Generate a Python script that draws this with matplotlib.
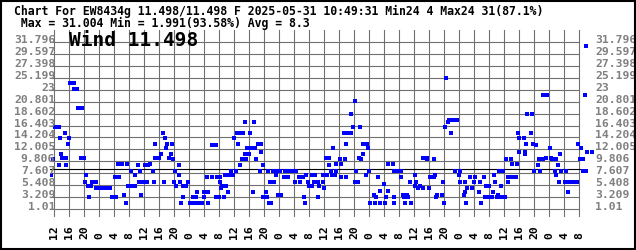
import matplotlib
matplotlib.use('Agg')
import matplotlib.pyplot as plt
from matplotlib.patches import Rectangle

# hours since 12:00 on the first day, and wind readings
hours = [
    -0.72, -0.19, 0.27, 1.25, 1.41, 1.68, 1.95, 2.13, 3.12, 3.01, 3.28, 3.81, 4.08, 4.27, 5.33, 5.25,
    6.21, 6.4, 7.39, 7.12, 8.08, 8.19, 8.53, 8.99, 9.41, 9.95, 10.21, 11.2, 11.2, 12.08, 12.99, 13.87,
    14.85, 15.55, 16.45, 16.35, 17.25, 17.15, 18.05, 18.67, 19.12, 19.39, 19.73, 20.72, 21.6, 20.61,
    21.6, 22.48, 22.93, 22.75, 23.28, 23.81, 24.72, 24.19, 25.07, 25.6, 26.48, 26.75, 27.01, 27.01,
    28.0, 28.53,
    29.15, 29.41, 29.68, 29.95, 30.21, 31.39, 30.75, 31.28, 31.81, 32.08, 32.35, 32.61, 33.25, 33.41,
    33.68, 33.95, 34.32, 35.28, 34.48, 35.81, 36.27, 37.33, 37.07, 37.95, 38.03, 38.4, 39.47, 39.92,
    40.0, 41.07, 41.15, 40.8, 42.13, 42.13, 43.2, 43.12, 43.39, 44.27, 44.08, 44.35, 44.61, 44.88,
    45.79, 45.41, 45.6, 46.67, 47.73, 46.4, 47.28, 48.08, 48.53, 48.72, 49.87, 49.15, 49.68, 50.05,
    50.48, 50.85, 51.01, 51.28, 51.39, 52.45, 52.08, 52.35, 53.15, 53.41, 53.68, 53.95, 54.32, 55.2,
    55.01, 55.28, 55.81, 55.73, 56.8, 56.61, 57.15,
    57.25, 57.79, 57.6, 58.67, 58.4, 59.2, 59.28, 59.65, 60.53, 60.27, 61.52, 61.25, 62.32, 62.4,
    63.47, 64.53, 64.35, 65.6, 65.25, 66.32, 66.75, 67.01, 67.28, 67.81, 67.92, 68.88, 68.8, 69.68,
    69.41, 70.4, 70.48, 70.75, 71.81, 71.81, 72.08, 72.45, 73.41, 73.41, 72.88, 74.05, 73.95, 74.48,
    74.85, 75.12, 75.12, 76.45, 76.53, 77.79, 76.27, 77.68, 77.95, 77.41, 78.4, 79.28, 79.28, 79.81,
    80.35, 80.19, 80.61, 81.15, 81.68, 81.41, 81.95, 82.48, 82.4, 83.47, 83.28, 83.81, 84.08, 84.27,
    85.52, 85.41, 85.79, 86.48, 86.93,
    86.93, 88.19, 88.08, 88.61, 89.15, 89.07, 90.4, 90.59, 90.75, 90.59, 91.52, 92.45, 92.53, 93.25,
    93.07, 94.13, 94.4, 93.68, 95.12, 95.01, 96.45, 96.35, 96.35, 97.6, 97.07, 98.32, 98.4, 99.47,
    99.39, 99.92, 100.19, 101.41, 101.41, 101.68, 101.95, 102.21, 103.39, 103.81, 104.08, 104.35,
    104.61, 105.15, 105.33, 106.4, 107.47, 105.95, 106.93, 108.19, 108.08, 108.27, 109.52, 109.68,
    109.41, 109.95, 110.13, 111.47, 110.93, 112.35, 112.0, 113.52, 113.41, 113.95, 114.59, 115.12,
    115.01, 116.0, 116.0,
    116.8, 117.15, 117.41, 117.68, 118.21, 118.48, 118.75, 119.12, 119.28, 119.81, 120.27, 120.61,
    121.15, 121.07, 122.13, 121.95, 122.13, 123.39, 123.28, 123.81, 124.08, 124.08, 125.52, 125.41,
    125.68, 125.95, 126.13, 127.39, 127.28, 127.81, 128.08, 128.53, 129.15, 129.68, 129.25, 130.4,
    130.4, 131.47, 131.28, 132.53, 132.35, 132.72, 133.87, 133.68, 133.95, 134.48, 134.75, 135.01,
    135.12, 136.53, 136.27, 137.33, 138.4, 139.47, 137.15, 139.81, 140.61, 140.19, 140.99, 140.99,
    141.87, 141.68, 141.95, 142.13, 143.47,
]
wind = [
    7.24, 10.17, 16.16, 16.16, 9.2, 14.15, 11.2, 10.48, 10.48, 15.06, 9.2, 13.05, 14.15, 24.23, 24.23, 23.13,
    23.13, 19.65, 19.65, 10.48, 10.48, 6.08, 7.24, 5.16, 3.15, 5.16, 5.9, 5.9, 4.8, 4.8, 4.8, 4.8,
    4.8, 3.15, 3.15, 7.0, 7.0, 9.37, 9.37, 3.58, 2.11, 9.37, 5.16, 5.16, 5.16, 8.04,
    7.24, 9.14, 8.04, 6.08, 3.58, 6.08, 6.08, 9.14, 9.14, 9.37, 8.04, 5.9, 13.05, 10.48,
    10.48, 11.2,
    15.06, 6.08, 14.15, 12.19, 13.05, 13.05, 10.48, 11.2, 10.17, 6.08, 8.04, 5.16, 7.24, 9.2,
    6.08, 2.11, 5.16, 5.16, 3.15, 6.08, 2.11, 2.11, 3.15, 3.15, 4.06, 2.11, 2.11, 3.15,
    4.06, 4.06, 2.11, 7.0, 7.0, 12.8, 12.8, 3.15, 7.0, 7.0, 3.15, 6.08, 4.8, 5.16,
    5.16, 3.15, 7.24, 7.24, 7.24, 4.06, 8.04, 14.15, 8.04, 15.06, 15.06, 13.05, 9.2, 10.17,
    15.06, 17.08, 11.2, 10.17, 12.19, 12.19, 11.2, 15.06, 4.06, 17.08, 12.19, 10.17, 13.05, 13.05,
    8.04, 11.57, 9.2, 3.15, 3.15, 4.06, 8.04,
    2.11, 2.11, 6.08, 6.08, 8.04, 8.04, 7.24, 3.58, 3.58, 8.04, 8.04, 7.0, 7.0, 8.04,
    8.04, 8.04, 5.9, 5.9, 7.0, 7.0, 3.15, 2.11, 7.24, 5.9, 5.16, 5.16, 7.24, 7.24,
    6.08, 6.08, 3.15, 5.16, 6.08, 7.24, 4.8, 10.48, 10.48, 9.2, 7.24, 7.24, 8.04, 12.19,
    7.24, 8.04, 9.37, 9.37, 7.0, 7.0, 10.17, 10.17, 13.05, 15.06, 15.06, 15.06, 18.55, 16.16,
    20.99, 6.08, 8.04, 6.08, 16.16, 10.48, 10.17, 11.2, 13.05, 13.05, 7.24, 12.19, 8.04, 2.11,
    2.11, 3.58, 3.15, 7.0, 4.37,
    2.11, 2.11, 5.71, 3.15, 4.37, 9.37, 9.37, 3.15, 2.11, 8.04, 8.04, 8.04, 7.0, 3.15,
    3.58, 3.58, 3.15, 2.11, 2.11, 6.08, 5.9, 7.24, 5.16, 5.16, 4.8, 4.8, 10.48, 10.48,
    10.17, 4.8, 7.0, 7.0, 10.17, 7.24, 3.15, 3.58, 3.58, 6.08, 2.11, 16.16,
    25.14, 17.08, 17.51, 17.51, 17.51, 15.06, 8.04, 8.04, 7.24, 5.9, 5.9, 4.06,
    3.58, 2.11, 4.8, 4.8, 7.0, 7.0, 5.9, 5.9, 4.06, 2.11, 7.0, 5.16,
    3.15, 3.15, 5.16,
    3.15, 4.06, 7.24, 6.08, 3.15, 3.58, 8.04, 3.15, 5.16, 8.04, 3.15, 10.17,
    6.08, 7.0, 7.0, 10.17, 9.37, 9.37, 7.0, 15.06, 14.15, 11.57, 11.57, 14.15,
    11.2, 13.05, 18.55, 18.55, 15.06, 13.05, 8.04, 12.8, 9.2, 8.04, 10.17, 10.17,
    22.03, 22.03, 10.48, 10.48, 12.19, 10.17, 10.17, 8.04, 7.24, 9.2, 6.08, 11.2,
    8.04, 8.04, 5.9, 5.9, 5.9, 5.9, 4.06, 13.05, 12.19, 10.17, 10.17, 8.04,
    8.04, 22.03, 31.0, 11.57, 11.57,
]

x_labels = ['12', '16', '20', '0', '4', '8'] * 6
y_ticks = [1.01, 3.209, 5.408, 7.607, 9.806, 12.005, 14.204, 16.403,
           18.602, 20.801, 23.0, 25.199, 27.398, 29.597, 31.796]
y_labels = ['1.01', '3.209', '5.408', '7.607', '9.806', '12.005', '14.204', '16.403',
            '18.602', '20.801', '23', '25.199', '27.398', '29.597', '31.796']
avg = 8.3

title1 = 'Chart For EW8434g 11.498/11.498 F 2025-05-31 10:49:31 Min24 4 Max24 31(87.1%)'
title2 = ' Max = 31.004 Min = 1.991(93.58%) Avg = 8.3'
big = 'Wind 11.498'

W, H = 636, 251
mono = 'DejaVu Sans Mono'
gray = '#808080'

fig = plt.figure(figsize=(W / 100, H / 100), dpi=100)
fig.patch.set_facecolor('white')
ax = fig.add_axes([50 / W, 33 / H, 548 / W, 188 / H])
x0, x1 = -1.067, 145.07
y0, y1 = -0.465, 34.196
ax.set_xlim(x0, x1)
ax.set_ylim(y0, y1)
ax.set_axis_off()

# grid drawn as plain lines, one px wide
xt = [4 * i for i in range(len(x_labels))]
for x in xt:
    ax.plot([x, x], [y0, y1 - 0.2], color='#707070', lw=0.8, zorder=1)
for v in y_ticks:
    ax.plot([x0, xt[-1]], [v, v], color='#707070', lw=0.8, zorder=1)
ax.plot([x0, xt[-1] + 0.3], [avg, avg], color='black', lw=0.8, zorder=2)

ax.plot(hours, wind, ls='none', marker='s', ms=2.2, mew=0, color='#0000ff', zorder=3)

for v, s in zip(y_ticks, y_labels):
    ax.text(0.3, v, s, ha='right', va='baseline', color=gray,
            family=mono, weight='bold', fontsize=8.2, zorder=4)
    ax.text(144.27, v, s, ha='left', va='baseline', color=gray,
            family=mono, weight='bold', fontsize=8.2, zorder=4)

for x, s in zip(xt, x_labels):
    ax.text(x, -4.34, s, rotation=90, ha='center', va='bottom', color='black',
            family=mono, weight='bold', fontsize=8.2)

fig.text(14 / W, 1 - 15.0 / H, title1, ha='left', va='baseline',
         family=mono, weight='bold', fontsize=8.3)
fig.text(14 / W, 1 - 26.7 / H, title2, ha='left', va='baseline',
         family=mono, weight='bold', fontsize=8.3)
fig.text(69 / W, 1 - 45.5 / H, big, ha='left', va='baseline',
         family=mono, weight='bold', fontsize=14)

fig.patches.append(Rectangle((1 / W, 1.5 / H), (W - 2.5) / W, (H - 3) / H,
                             transform=fig.transFigure, fill=False,
                             edgecolor='black', lw=1.5))

fig.savefig('out.png', dpi=100)
